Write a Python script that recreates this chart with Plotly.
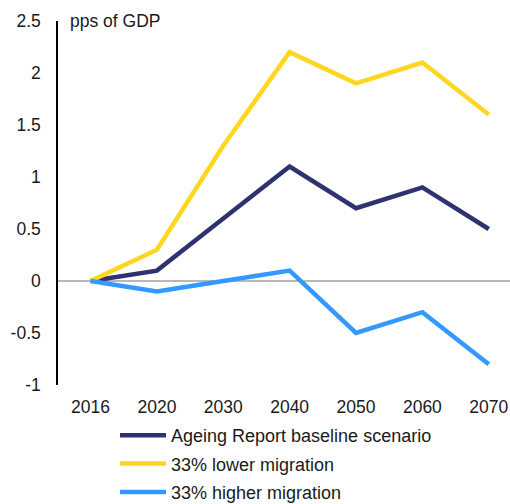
import plotly.graph_objects as go

years = ["2016", "2020", "2030", "2040", "2050", "2060", "2070"]
baseline = [0, 0.1, 0.6, 1.1, 0.7, 0.9, 0.5]
lower_mig = [0, 0.3, 1.3, 2.2, 1.9, 2.1, 1.6]
higher_mig = [0, -0.1, 0, 0.1, -0.5, -0.3, -0.8]
y_ticks = [-1, -0.5, 0, 0.5, 1, 1.5, 2, 2.5]
y_ticktext = ["-1", "-0.5", "0", "0.5", "1", "1.5", "2", "2.5"]

names = ["Ageing Report baseline scenario", "33% lower migration", "33% higher migration"]
colors = ["#2E3370", "#FFD620", "#3399FF"]
FONT = "Liberation Sans, Arial, sans-serif"

W, H = 510, 504

fig = go.Figure()
for i, (vals, name, col) in enumerate(zip([baseline, lower_mig, higher_mig], names, colors)):
    fig.add_trace(go.Scatter(x=years, y=vals, mode="lines", name=name,
                             legendgroup=f"g{i}",
                             line=dict(color=col, width=4.5)))

fig.add_hline(y=0, line=dict(color="#A0A0A0", width=1.5), layer="below")

fig.update_layout(
    width=W, height=H,
    margin=dict(l=58, r=0, t=21, b=119, autoexpand=False),
    paper_bgcolor="white", plot_bgcolor="white",
    font=dict(family=FONT, size=17.5, color="#1a1a1a"),
    showlegend=True,
    legend=dict(orientation="v", xref="container", yref="container",
                x=0.2255, xanchor="left", y=1 - 417 / H, yanchor="top",
                traceorder="grouped", tracegroupgap=2,
                font=dict(size=18), itemwidth=46, bgcolor="rgba(0,0,0,0)"),
    annotations=[dict(text="pps of GDP", xref="paper", yref="paper", x=0.022, y=1.0,
                      xanchor="left", yanchor="middle", showarrow=False,
                      font=dict(size=17.5))],
)
fig.update_xaxes(type="category", range=[-0.49, 6.32], showgrid=False, zeroline=False,
                 showline=False, ticks="", ticklabelstandoff=9, automargin=False)
fig.update_yaxes(range=[-1, 2.5], tickvals=y_ticks, ticktext=y_ticktext,
                 showgrid=False, zeroline=False,
                 showline=True, linecolor="black", linewidth=1.5, ticks="",
                 ticklabelstandoff=12, automargin=False)

fig.write_html("out.html", config={"displayModeBar": False},
               post_script="document.body.style.margin='0';document.body.style.overflow='hidden';")
